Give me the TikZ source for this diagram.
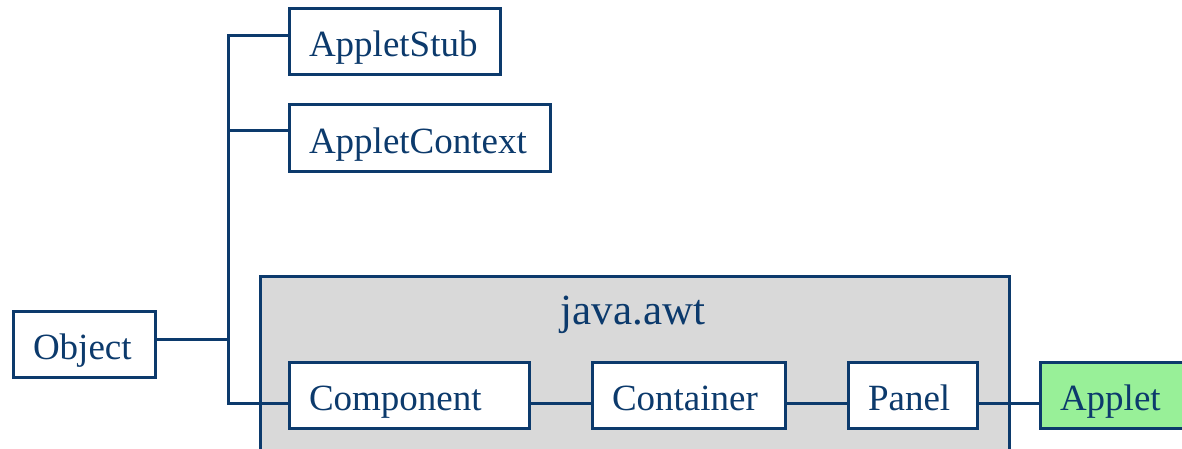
\documentclass[tikz,border=0pt]{standalone}
\usepackage{fontspec}
\setmainfont{Liberation Serif}
\usetikzlibrary{positioning}
\definecolor{awtblue}{RGB}{12,58,108}
\definecolor{awtgray}{RGB}{217,217,217}
\definecolor{appletgreen}{RGB}{152,240,152}

\begin{document}
\begin{tikzpicture}[x=0.5pt, y=-0.5pt, node distance=31.5pt,
  cls/.style={rectangle, draw=awtblue, line width=1.5pt, fill=white, text=awtblue, font=\fontsize{18.5}{20}\selectfont, inner ysep=0pt, text height=24pt, text depth=9pt, inner xsep=10pt, outer sep=0pt, align=left},
  pkg/.style={rectangle, draw=awtblue, line width=1.5pt, fill=awtgray, minimum width=374.5pt, minimum height=120pt, outer sep=0pt, anchor=north west},
  pkgname/.style={text=awtblue, font=\fontsize{21.5}{24}\selectfont},
  conn/.style={draw=awtblue, line width=1.5pt}]

\clip (0,0) rectangle (1182,449);

%Package
\node[pkg]     (awt)      at (260,276)   {};
\node[pkgname] (awtname)  at (633,315)   {java.awt};

%Nodes
\node[cls, text width=85.5pt, anchor=west]  (stub)  at (289,42)   {AppletStub};
\node[cls, text width=110.5pt]  (ctx)  [below right=15pt and 0pt of stub.south west] {AppletContext};
\node[cls, text width=51pt, anchor=west]    (obj)   at (13,344)   {Object};
\node[cls, text width=100pt, anchor=west]   (comp)  at (289,395)  {Component};
\node[cls, text width=76.5pt]  (cont)  [right=of comp] {Container};
\node[cls, text width=44.5pt]  (panel) [right=of cont] {Panel};
\node[cls, text width=60pt, fill=appletgreen] (applet) [right=of panel] {Applet};

%Lines
\draw[conn] ([yshift=3pt]stub.west) -- ++(-30.5pt,0) |- ([yshift=-4pt]comp.west);
\draw[conn] ([yshift=3.75pt]ctx.west) -- ++(-30.5pt,0);
\draw[conn] ([yshift=2.5pt]obj.east) -- ++(36.5pt,0);

\draw[conn] ([yshift=-4pt]comp.east) -- ([yshift=-4pt]cont.west);
\draw[conn] ([yshift=-4pt]cont.east) -- ([yshift=-4pt]panel.west);
\draw[conn] ([yshift=-4pt]panel.east) -- ([yshift=-4pt]applet.west);

\end{tikzpicture}
\end{document}
